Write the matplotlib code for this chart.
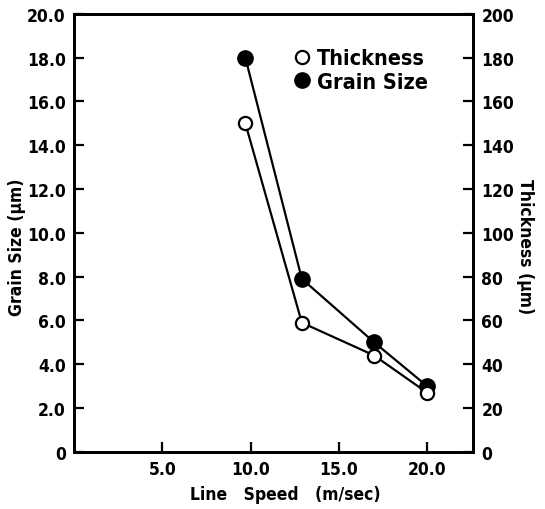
import matplotlib
matplotlib.use('Agg')
import matplotlib.pyplot as plt

# Data
line_speed = [9.7, 12.9, 17.0, 20.0]          # m/sec
grain_size = [18.0, 7.9, 5.0, 3.0]            # um (left axis)
thickness = [150, 59, 44, 27]                 # um (right axis)

left_ticks = [0, 2, 4, 6, 8, 10, 12, 14, 16, 18, 20]
left_labels = ["0", "2.0", "4.0", "6.0", "8.0", "10.0", "12.0",
               "14.0", "16.0", "18.0", "20.0"]
right_ticks = [0, 20, 40, 60, 80, 100, 120, 140, 160, 180, 200]
x_ticks = [5, 10, 15, 20]
x_labels = ["5.0", "10.0", "15.0", "20.0"]

plt.rcParams['font.family'] = ['DejaVu Sans']
plt.rcParams['font.stretch'] = 'condensed'
plt.rcParams['font.weight'] = 'bold'
plt.rcParams['axes.labelweight'] = 'bold'
plt.rcParams['font.size'] = 12.5

fig = plt.figure(figsize=(5.45, 5.10), dpi=100)
ax = fig.add_axes([0.136, 0.112, 0.732, 0.859])
ax2 = ax.twinx()

ax.plot(line_speed, grain_size, '-o', color='black', linewidth=1.6,
        markersize=11, markerfacecolor='black', label="Grain Size", zorder=3)
ax2.plot(line_speed, thickness, '-o', color='black', linewidth=1.6,
         markersize=9.5, markerfacecolor='white', markeredgewidth=1.6,
         label="Thickness", zorder=3)

ax.set_xlim(0, 22.6)
ax.set_ylim(0, 20)
ax2.set_ylim(0, 200)

ax.set_xticks(x_ticks)
ax.set_xticklabels(x_labels)
ax.set_yticks(left_ticks)
ax.set_yticklabels(left_labels)
ax2.set_yticks(right_ticks)

ax.tick_params(axis='both', direction='in', length=7, width=1.6, pad=6)
ax2.tick_params(axis='y', direction='in', length=7, width=1.6, pad=6)

for a in (ax, ax2):
    for sp in a.spines.values():
        sp.set_linewidth(2)

ax.set_xlabel("Line   Speed   (m/sec)")
ax.xaxis.set_label_coords(0.53, -0.075)
ax.set_ylabel("Grain Size (\u03bcm)")
ax.yaxis.set_label_coords(-0.12, 0.47)
ax2.set_ylabel("Thickness (\u03bcm)", rotation=-90, va='center')
ax2.yaxis.set_label_coords(1.13, 0.47)

# legend: thickness first, then grain size
h1, l1 = ax2.get_legend_handles_labels()
h2, l2 = ax.get_legend_handles_labels()
leg = ax2.legend(h1 + h2, l1 + l2, loc='upper left',
                 bbox_to_anchor=(0.50, 0.965), frameon=False,
                 handlelength=0.8, handletextpad=0.3, labelspacing=0.15,
                 fontsize=15.5)
for line in leg.get_lines():
    line.set_linestyle('none')

fig.savefig("out.png", dpi=100)
plt.close(fig)
